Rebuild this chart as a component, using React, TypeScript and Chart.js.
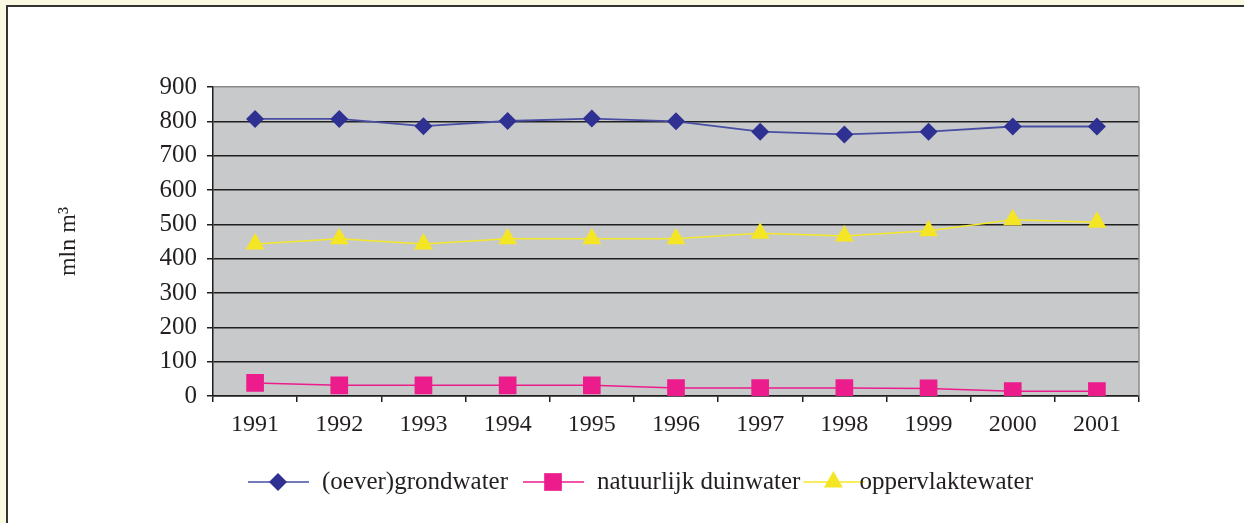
import React, { useEffect, useRef } from "react";
import { Chart, registerables } from "chart.js";
import { drawPoint } from "chart.js/helpers";

Chart.register(...registerables);

const years = ["1991", "1992", "1993", "1994", "1995", "1996", "1997", "1998", "1999", "2000", "2001"];
const grondwater = [807, 807, 786, 801, 808, 800, 770, 762, 770, 785, 785];
const duinwater = [38, 31, 31, 31, 31, 23, 23, 23, 22, 14, 14];
const oppervlaktewater = [443, 458, 443, 458, 458, 458, 474, 466, 481, 513, 506];
const seriesNames = ["(oever)grondwater", "natuurlijk duinwater", "oppervlaktewater"];
const yMin = 0;
const yMax = 900;
const yStep = 100;
const yTitle = "mln m\u00B3";

const FONT = "'Liberation Serif', 'DejaVu Serif', serif";
const TEXT = "#231f20";
const DARK = "#1f1f1f";

export default function App() {
  const ref = useRef<HTMLCanvasElement | null>(null);

  useEffect(() => {
    const canvas = ref.current;
    if (!canvas) return;

    const plotBg = {
      id: "plotBg",
      beforeDraw(chart: any) {
        const { ctx, chartArea: a } = chart;
        ctx.save();
        ctx.fillStyle = "#c8c9cb";
        ctx.fillRect(a.left, a.top, a.right - a.left, a.bottom - a.top);
        ctx.restore();
      },
      beforeDatasetsDraw(chart: any) {
        const { ctx, chartArea: a } = chart;
        ctx.save();
        ctx.strokeStyle = "#8a8a8a";
        ctx.lineWidth = 1.5;
        ctx.beginPath();
        ctx.moveTo(a.right, a.top);
        ctx.lineTo(a.right, a.bottom);
        ctx.stroke();
        ctx.restore();
      },
    };

    // legend: line + marker + label, Excel-like spacing
    const textOffsets = [74, 74, 56];
    const gapsAfter = [15, 3, 0];
    const customLegend = {
      id: "customLegend",
      afterDraw(chart: any) {
        const { ctx } = chart;
        ctx.save();
        ctx.font = `25px ${FONT}`;
        ctx.textBaseline = "middle";
        const y = 482;
        let x = 248;
        chart.data.datasets.forEach((ds: any, i: number) => {
          ctx.strokeStyle = ds.borderColor;
          ctx.lineWidth = 1.5;
          ctx.beginPath();
          ctx.moveTo(x, y);
          ctx.lineTo(x + 61, y);
          ctx.stroke();
          ctx.fillStyle = ds.pointBackgroundColor;
          ctx.strokeStyle = ds.pointBackgroundColor;
          drawPoint(ctx, { pointStyle: ds.pointStyle, radius: ds.pointRadius, rotation: 0, borderWidth: 0 }, x + 30, y);
          ctx.fillStyle = TEXT;
          ctx.fillText(ds.label, x + textOffsets[i], y);
          x = x + textOffsets[i] + ctx.measureText(ds.label).width + gapsAfter[i];
        });
        ctx.restore();
      },
    };

    const chart = new Chart(canvas, {
      type: "line",
      data: {
        labels: years,
        datasets: [
          {
            label: seriesNames[0],
            data: grondwater,
            borderColor: "#4a4ea3",
            backgroundColor: "#2e3192",
            pointBackgroundColor: "#2e3192",
            pointBorderColor: "#2e3192",
            pointStyle: "rectRot",
            pointRadius: 9,
            pointBorderWidth: 0,
            borderWidth: 1.8,
          },
          {
            label: seriesNames[1],
            data: duinwater,
            borderColor: "#ec1c8c",
            backgroundColor: "#ec1c8c",
            pointBackgroundColor: "#ec1c8c",
            pointBorderColor: "#ec1c8c",
            pointStyle: "rect",
            pointRadius: 12.5,
            pointBorderWidth: 0,
            borderWidth: 1.5,
          },
          {
            label: seriesNames[2],
            data: oppervlaktewater,
            borderColor: "#f4e82a",
            backgroundColor: "#f5e625",
            pointBackgroundColor: "#f5e625",
            pointBorderColor: "#f5e625",
            pointStyle: "triangle",
            pointRadius: 11,
            pointBorderWidth: 0,
            borderWidth: 1.5,
          },
        ],
      },
      options: {
        responsive: false,
        animation: false,
        events: [],
        layout: { padding: { left: 0, top: 87, right: 105, bottom: 0 } },
        plugins: {
          legend: { display: false },
          title: { display: false },
          tooltip: { enabled: false },
        },
        elements: { line: { tension: 0 } },
        scales: {
          x: {
            offset: true,
            afterFit(scale: any) {
              scale.height = 127;
            },
            grid: {
              display: true,
              offset: true,
              drawOnChartArea: false,
              drawTicks: true,
              tickLength: 6,
              color: DARK,
              lineWidth: 1.5,
            },
            border: { display: true, color: DARK, width: 1.5 },
            ticks: {
              color: TEXT,
              font: { family: FONT, size: 24 },
              padding: 8,
              maxRotation: 0,
            },
          },
          y: {
            min: yMin,
            max: yMax,
            afterFit(scale: any) {
              scale.width = 213;
            },
            title: {
              display: true,
              text: yTitle,
              color: TEXT,
              font: { family: FONT, size: 24 },
              padding: { top: 54, bottom: 0 },
            },
            grid: {
              display: true,
              drawTicks: true,
              tickLength: 6,
              color: (c: any) => (c.tick && c.tick.value === yMax ? "#8a8a8a" : DARK),
              tickColor: DARK,
              lineWidth: 1.5,
            },
            border: { display: true, color: DARK, width: 1.5 },
            ticks: {
              stepSize: yStep,
              color: TEXT,
              font: { family: FONT, size: 25 },
              padding: 10,
            },
          },
        },
      },
      plugins: [plotBg, customLegend],
    } as any);

    return () => chart.destroy();
  }, []);

  return (
    <div
      style={{
        position: "fixed",
        left: 0,
        top: 0,
        width: 1244,
        height: 523,
        background: "#fcf9e2",
        overflow: "hidden",
      }}
    >
      <div
        style={{
          position: "absolute",
          left: 6,
          top: 5,
          width: 1260,
          height: 540,
          background: "#ffffff",
          borderLeft: "2px solid #333333",
          borderTop: "2px solid #333333",
        }}
      />
      <canvas
        ref={ref}
        width={1244}
        height={523}
        style={{ position: "absolute", left: 0, top: 0, width: 1244, height: 523, display: "block" }}
      />
    </div>
  );
}
